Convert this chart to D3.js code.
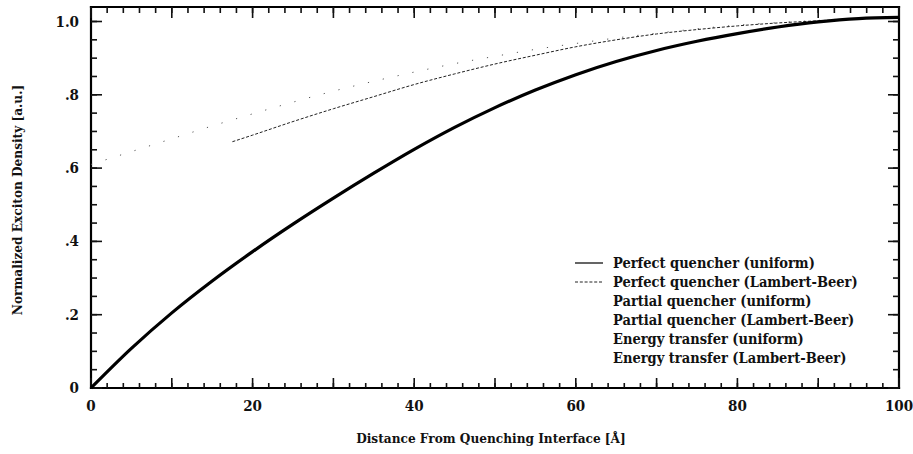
<!DOCTYPE html>
<html>
<head>
<meta charset="utf-8">
<script src="https://cdn.jsdelivr.net/npm/d3@7"></script>
<style>
  body { margin: 0; background: #fff; }
  svg { display: block; }
  svg text { font-family: "DejaVu Serif Condensed", "DejaVu Serif", serif; font-weight: bold; fill: #111; }
</style>
</head>
<body>
<svg width="913" height="454"></svg>
<script>
// distance from quenching interface (A)
var distance = [0, 5, 10, 15, 20, 25, 30, 35, 40, 45, 50, 55, 60, 65, 70, 75, 80, 85, 90, 95, 100];
// perfect quencher, uniform excitation
var perfectUniform = [0, 0.108, 0.205, 0.292, 0.372, 0.447, 0.518, 0.586, 0.651, 0.711, 0.765, 0.813, 0.855, 0.891, 0.921, 0.946, 0.967, 0.985, 0.999, 1.008, 1.011];
// perfect quencher, Lambert-Beer (starts at ~17.5 A)
var lbDistance = [17.5, 20, 25, 30, 35, 40, 45, 50, 55, 60, 65, 70, 75, 80, 85, 90, 95, 100];
var perfectLB = [0.672, 0.69, 0.727, 0.762, 0.795, 0.828, 0.857, 0.884, 0.908, 0.931, 0.95, 0.966, 0.978, 0.988, 0.996, 1.002, 1.008, 1.011];
// faint dotted curve (barely visible in print)
var dottedCurve = [0.61, 0.645, 0.68, 0.715, 0.748, 0.78, 0.81, 0.837, 0.862, 0.885, 0.905, 0.924, 0.94, 0.955, 0.968, 0.98, 0.99, 0.997, 1.003, 1.009, 1.011];

var legendLabels = ["Perfect quencher (uniform)", "Perfect quencher (Lambert-Beer)",
  "Partial quencher (uniform)", "Partial quencher (Lambert-Beer)",
  "Energy transfer (uniform)", "Energy transfer (Lambert-Beer)"];
var xLabelTicks = [0, 20, 40, 60, 80, 100];
var yLabelTicks = [0, 0.2, 0.4, 0.6, 0.8, 1.0];

var svg = d3.select("svg");
var plotL = 91, plotR = 899, plotT = 7, plotB = 388;

var x = d3.scaleLinear().domain([0, 100]).range([plotL, plotR]);
var y = d3.scaleLinear().domain([0, 1]).range([plotB, plotB - 366.5]);

function yfmt(d) {
  if (d === 0) return "0";
  if (d === 1) return "1.0";
  return d3.format(".1f")(d).replace(/^0/, "");
}

var xMinor = d3.range(0, 101, 2), xMajor = d3.range(0, 101, 10);
var yMinor = d3.range(0, 1.001, 0.05), yMajor = yLabelTicks;

// frame: four sides drawn as separate lines
var frame = svg.append("g").attr("stroke", "#000").attr("stroke-width", 2.2).attr("stroke-linecap", "square");
frame.append("line").attr("x1", plotL).attr("y1", plotT).attr("x2", plotR).attr("y2", plotT);
frame.append("line").attr("x1", plotL).attr("y1", plotB).attr("x2", plotR).attr("y2", plotB);
frame.append("line").attr("x1", plotL).attr("y1", plotT).attr("x2", plotL).attr("y2", plotB);
frame.append("line").attr("x1", plotR).attr("y1", plotT).attr("x2", plotR).attr("y2", plotB);

// ticks, all pointing inward
var ticks = svg.append("g").attr("stroke", "#111").attr("stroke-width", 1.6);
function xTicks(vals, len) {
  ticks.selectAll(null).data(vals).enter().append("line")
    .attr("x1", function(d) { return x(d); }).attr("x2", function(d) { return x(d); })
    .attr("y1", plotB).attr("y2", plotB - len);
  ticks.selectAll(null).data(vals).enter().append("line")
    .attr("x1", function(d) { return x(d); }).attr("x2", function(d) { return x(d); })
    .attr("y1", plotT).attr("y2", plotT + len + 1);
}
function yTicks(vals, len) {
  ticks.selectAll(null).data(vals).enter().append("line")
    .attr("y1", function(d) { return y(d); }).attr("y2", function(d) { return y(d); })
    .attr("x1", plotL).attr("x2", plotL + len);
  ticks.selectAll(null).data(vals).enter().append("line")
    .attr("y1", function(d) { return y(d); }).attr("y2", function(d) { return y(d); })
    .attr("x1", plotR).attr("x2", plotR - len);
}
xTicks(xMinor, 5);
xTicks(xMajor, 10);
yTicks(yMinor, 6);
yTicks(yMajor, 11);

// tick labels
svg.append("g").selectAll("text").data(xLabelTicks).enter().append("text")
  .attr("x", function(d) { return x(d); })
  .attr("y", 411)
  .attr("text-anchor", "middle")
  .style("font-size", "15px")
  .text(function(d) { return d; });

svg.append("g").selectAll("text").data(yLabelTicks).enter().append("text")
  .attr("x", 79)
  .attr("y", function(d) { return y(d) + 5; })
  .attr("text-anchor", "end")
  .style("font-size", "15px")
  .text(yfmt);

// curves
var line = d3.line().curve(d3.curveMonotoneX);

svg.append("path")
  .attr("d", line(distance.map(function(d, i) { return [x(d), y(dottedCurve[i])]; })))
  .attr("fill", "none").attr("stroke", "#555").attr("stroke-width", 1)
  .attr("stroke-dasharray", "1.2,14");

svg.append("path")
  .attr("d", line(lbDistance.map(function(d, i) { return [x(d), y(perfectLB[i])]; })))
  .attr("fill", "none").attr("stroke", "#222").attr("stroke-width", 1)
  .attr("stroke-dasharray", "3,1.8");

svg.append("path")
  .attr("d", line(distance.map(function(d, i) { return [x(d), y(perfectUniform[i])]; })))
  .attr("fill", "none").attr("stroke", "#000").attr("stroke-width", 3.2);

// legend
var leg = svg.append("g").attr("transform", "translate(575,263)");
leg.selectAll("text").data(legendLabels).enter().append("text")
  .attr("x", 38)
  .attr("y", function(d, i) { return i * 19 + 5; })
  .style("font-size", "14.5px")
  .text(function(d) { return d; });
leg.append("line").attr("x1", 0).attr("x2", 28).attr("y1", 0).attr("y2", 0)
  .attr("stroke", "#111").attr("stroke-width", 1.3);
leg.append("line").attr("x1", 0).attr("x2", 28).attr("y1", 19).attr("y2", 19)
  .attr("stroke", "#222").attr("stroke-width", 1).attr("stroke-dasharray", "3,1.8");

// axis titles
svg.append("text")
  .attr("x", 491).attr("y", 443)
  .attr("text-anchor", "middle")
  .style("font-size", "13.5px")
  .text("Distance From Quenching Interface [\u00c5]");

svg.append("text")
  .attr("transform", "translate(22,200) rotate(-90)")
  .attr("text-anchor", "middle")
  .style("font-size", "13.5px")
  .text("Normalized Exciton Density [a.u.]");
</script>
</body>
</html>
